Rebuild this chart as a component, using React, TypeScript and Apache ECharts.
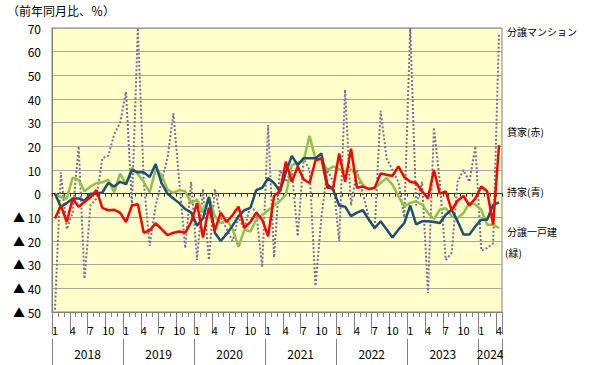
import React, { useEffect, useRef } from 'react';
import * as echarts from 'echarts';

const YEARS = ['2018', '2019', '2020', '2021', '2022', '2023', '2024'];
const MONTHS_PER_YEAR = [12, 12, 12, 12, 12, 12, 4];
const categories: string[] = [];
YEARS.forEach((y, k) => {
  for (let m = 1; m <= MONTHS_PER_YEAR[k]; m++) categories.push(`${y}/${m}`);
});

const Y_MIN = -50;
const Y_MAX = 70;
const Y_STEP = 10;

// 分譲マンション
const condoValues = [
  -49, 9, -15, -8, 20, -36, -5, -2, 15, 16, 25, 30,
  43, -5, 70, 5, -22, -5, 5, 15, 34, 5, -23, 5,
  -28, 2, -28, 2, -10, -15, -20, -10, -15, -5, -8, -31,
  29, -27, 10, 5, 10, -18, 15, 10, -39, -10, 10, 5,
  -20, 44, -5, 10, 0, -10, -15, 35, 15, 10, 5, -10,
  70, -5, 5, -42, 28, 5, -28, -25, 5, 10, 5, 20,
  -24, -23, -21, 68,
];
// 貸家（赤）
const rentalValues = [
  -10.5, -5, -12, -2, -5.5, -3.5, -1.5, 1.5, -6, -7, -6.8, -8,
  -12, -5, -4.5, -16.5, -15.5, -12.5, -15, -17.5, -16.5, -16, -16.5, -12,
  -4, -18.5, -6, -15.5, -8, -12, -9, -5.5, -14.5, -12, -8, -11,
  -18, -1, 1, 13.5, 5, 11.5, 6, 4.5, 14, 15, 2.5, 2.5,
  17, 5, 19, 2.5, 3, 2, 2.5, 8.5, 8, 7.5, 11.5, 7,
  5, 4.5, 1, -2, 10, 0, 1, -7, -3, -1, -5, -2,
  3, 1, -13, 20.5,
];
// 持家（青）
const ownerValues = [
  0, -5.5, -4, -2, -2, -3, 0, 0, 0.5, 4.5, 3, 5,
  4, 10, 9, 9, 7, 12.5, 4.5, 0, -2, -4, -6.5, -8,
  -13.5, -10.5, -1.5, -16.5, -20, -17, -13.5, -9.5, -7, -6, 1.5, 2.5,
  6.5, 4.5, 1, 9, 16, 12, 15, 15, 15, 17, 4, 1.5,
  -5, -5.5, -9.5, -8, -7, -11, -14.5, -11.7, -15, -18.5, -15.2, -12.4,
  -5, -13, -11.7, -11.7, -12, -12.4, -8.9, -6.8, -11.7, -17.3, -17.3, -13.8,
  -11, -11, -4.7, -3.7,
];
// 分譲一戸建（緑）
const detachedValues = [
  0, -1.5, -2, 6.8, 5.8, 1, 3, 4.5, 4.8, 5.9, 0.5, 8.5,
  4, 11, 8.2, 5, 0.5, 10.3, 8, 1.8, 0.3, 1.5, 1, -4,
  -2.5, -8, -1.2, -9.5, -12.5, -11, -15, -22.5, -15.2, -16, -11, -9,
  -7, -5, -3, -0.5, 12, 13, 14, 24.5, 14.5, 14.5, 10, 11.5,
  10.4, 9.5, 10.2, 8, 3.8, 1.7, 2.4, 4.5, 6.6, 3.8, -1.1, -5.4,
  -3.9, -3.2, -4.6, -8.2, -10.7, -6.8, -6.1, -9.6, -10.3, -8.2, -3.9, -4.6,
  -6.8, -13.1, -13.1, -14.5,
];

const TITLE = '（前年同月比、％）';
const LABEL_CONDO = '分譲マンション';
const LABEL_RENTAL = '貸家(赤)';
const LABEL_OWNER = '持家(青)';
const LABEL_DETACHED_1 = '分譲一戸建';
const LABEL_DETACHED_2 = '(緑)';

const FONT = '"Noto Sans CJK JP", "Noto Sans", sans-serif';

export default function App() {
  const ref = useRef<HTMLDivElement>(null);

  useEffect(() => {
    if (!ref.current) return;
    const chart = echarts.init(ref.current, undefined, { renderer: 'svg' });

    const monthOf = (v: string) => v.split('/')[1];
    const yearOf = (v: string) => v.split('/')[0];

    const baseX = {
      type: 'category' as const,
      data: categories,
      boundaryGap: true,
      position: 'bottom' as const,
      splitLine: { show: false },
    };

    const option: any = {
      animation: false,
      grid: {
        left: 52,
        right: 88,
        top: 28,
        bottom: 53,
        show: true,
        backgroundColor: '#FFFFCC',
        borderColor: '#808080',
        borderWidth: 1,
        containLabel: false,
      },
      xAxis: [
        {
          ...baseX,
          axisLine: { show: true, onZero: false, lineStyle: { color: '#808080', width: 1 } },
          axisTick: { show: true, interval: 0, length: 5, lineStyle: { color: '#808080' } },
          axisLabel: {
            show: true,
            interval: (i: number) => i % 3 === 0,
            formatter: (v: string) => monthOf(v),
            color: '#000',
            fontSize: 11,
            fontFamily: FONT,
            margin: 12,
          },
        },
        {
          ...baseX,
          axisLine: { show: false, onZero: false },
          axisTick: { show: true, interval: (i: number) => i % 3 === 0, length: 22, lineStyle: { color: '#808080' } },
          axisLabel: { show: false },
        },
        {
          ...baseX,
          offset: 27,
          axisLine: { show: false, onZero: false },
          axisTick: { show: true, interval: (i: number) => i % 12 === 0, length: 26, lineStyle: { color: '#808080' } },
          axisLabel: {
            show: true,
            interval: (i: number) => i % 12 === 6 || i === 74,
            formatter: (v: string) => yearOf(v),
            color: '#000',
            fontSize: 12,
            fontFamily: FONT,
            margin: 8,
            padding: [0, 6, 0, 0],
          },
        },
        {
          ...baseX,
          axisLine: { show: true, onZero: true, lineStyle: { color: '#333333', width: 1 } },
          axisTick: { show: true, interval: 0, length: 3, lineStyle: { color: '#333333' } },
          axisLabel: { show: false },
        },
      ],
      yAxis: {
        type: 'value',
        min: Y_MIN,
        max: Y_MAX,
        interval: Y_STEP,
        axisLine: { show: true, lineStyle: { color: '#808080' } },
        axisTick: { show: false },
        splitLine: { show: true, lineStyle: { color: '#A8A8A0', width: 1 } },
        axisLabel: {
          color: '#000',
          fontSize: 12,
          fontFamily: FONT,
          margin: 11,
          formatter: (v: number) => (v < 0 ? `▲ ${-v}` : `${v}`),
        },
      },
      series: [
        {
          name: LABEL_CONDO,
          type: 'line',
          data: condoValues,
          symbol: 'none',
          lineStyle: { color: '#7B6E9C', width: 2, type: 'dotted' },
          z: 2,
        },
        {
          name: LABEL_DETACHED_1,
          type: 'line',
          data: detachedValues,
          symbol: 'none',
          lineStyle: { color: '#92C050', width: 2.5 },
          z: 3,
        },
        {
          name: LABEL_OWNER,
          type: 'line',
          data: ownerValues,
          symbol: 'none',
          lineStyle: { color: '#1F4E79', width: 2.5 },
          z: 4,
        },
        {
          name: LABEL_RENTAL,
          type: 'line',
          data: rentalValues,
          symbol: 'none',
          lineStyle: { color: '#FF0000', width: 2.5 },
          z: 5,
        },
      ],
      graphic: [
        { type: 'text', x: 7, y: 10, style: { text: TITLE, fill: '#000', font: `12px ${FONT}`, verticalAlign: 'middle' } },
        { type: 'text', x: 507, y: 31, style: { text: LABEL_CONDO, fill: '#000', font: `10px ${FONT}`, verticalAlign: 'middle' } },
        { type: 'text', x: 507, y: 131, style: { text: LABEL_RENTAL, fill: '#000', font: `10px ${FONT}`, verticalAlign: 'middle' } },
        { type: 'text', x: 507, y: 191, style: { text: LABEL_OWNER, fill: '#000', font: `10px ${FONT}`, verticalAlign: 'middle' } },
        { type: 'text', x: 507, y: 231, style: { text: LABEL_DETACHED_1, fill: '#000', font: `10px ${FONT}`, verticalAlign: 'middle' } },
        { type: 'text', x: 505, y: 252, style: { text: LABEL_DETACHED_2, fill: '#000', font: `10px ${FONT}`, verticalAlign: 'middle' } },
      ],
    };

    chart.setOption(option);
    return () => chart.dispose();
  }, []);

  return (
    <div
      ref={ref}
      style={{ position: 'fixed', left: 0, top: 0, width: 590, height: 365, background: '#fff' }}
    />
  );
}
